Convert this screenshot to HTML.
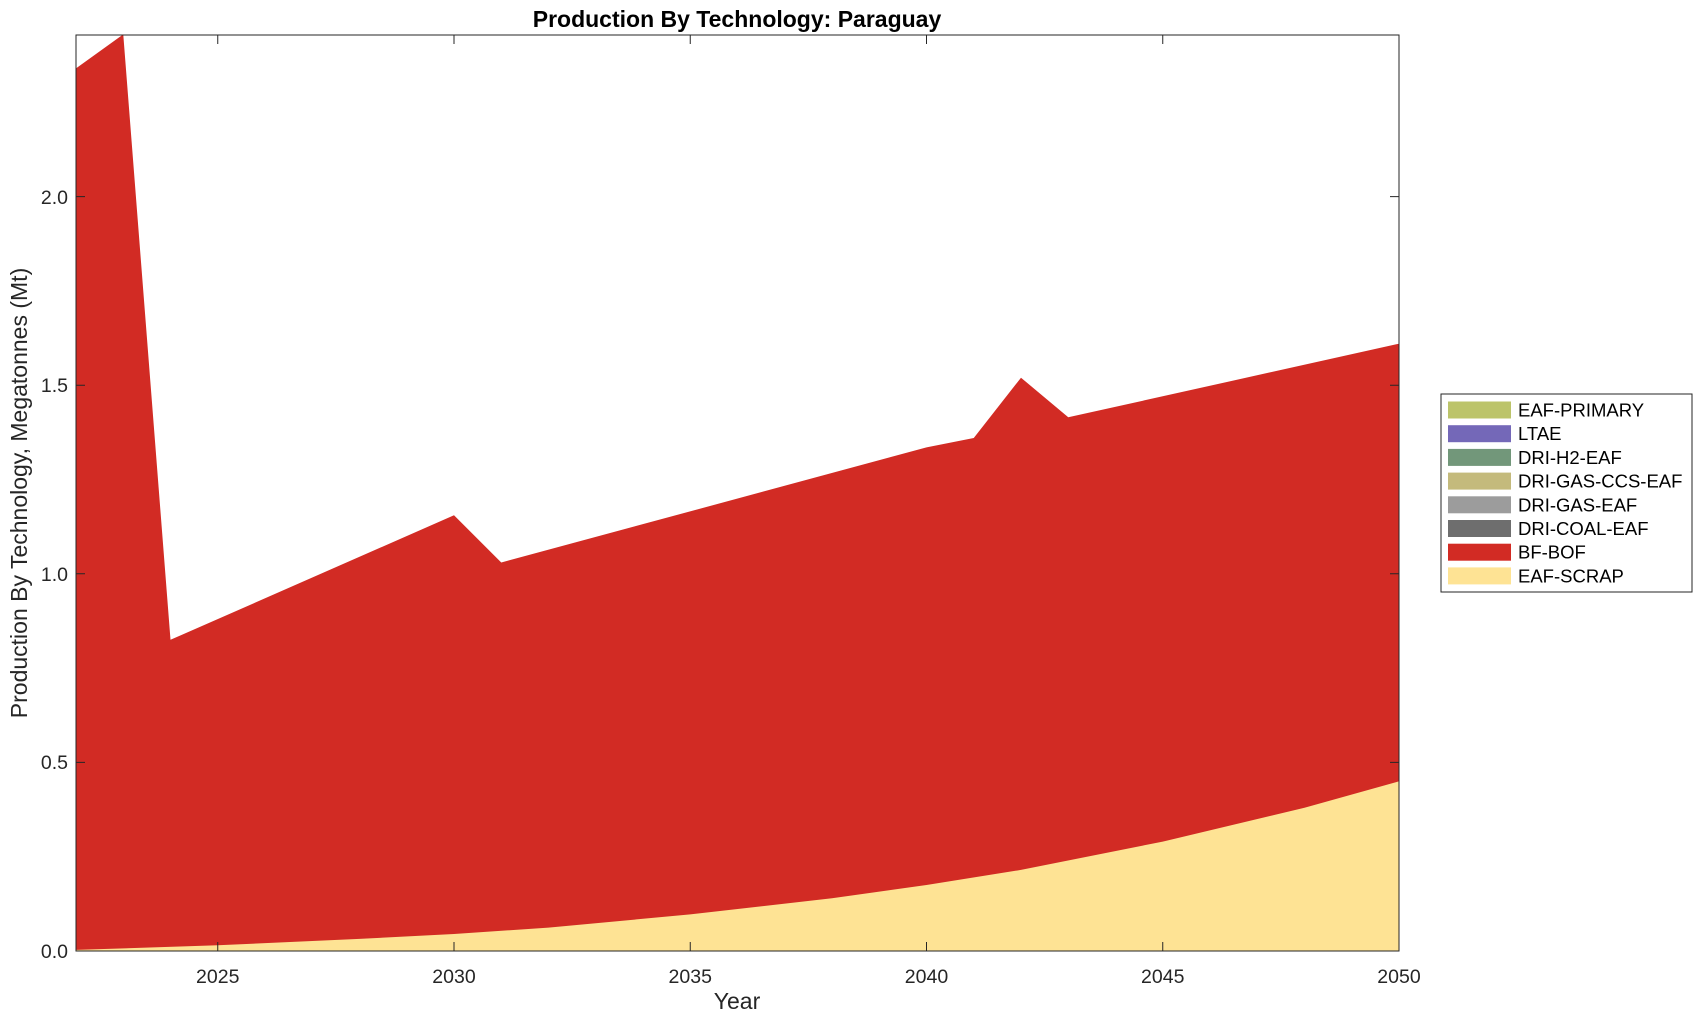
<!DOCTYPE html>
<html><head><meta charset="utf-8"><style>html,body{margin:0;padding:0;background:#fff}svg{display:block}</style></head>
<body>
<svg width="1703" height="1020" viewBox="0 0 1703 1020" xmlns="http://www.w3.org/2000/svg" font-family="Liberation Sans, Arial, sans-serif">
<rect width="1703" height="1020" fill="#fff"/>
<polygon fill="#d22b24" points="76,951 76,68.4 123.25,34.4 170.5,639.8 454,515.3 501.25,562.5 926.5,447.4 973.75,438 1021,377.7 1068.25,417.3 1399,343.7 1399,951"/>
<polygon fill="#fee394" points="76,951 76,949.9 217.75,945.3 359.5,938.9 454,934 548.5,927.6 690.25,914.4 832,898.2 926.5,885 1021,869.9 1162.75,841.6 1304.5,807.7 1399,781.3 1399,951"/>
<rect x="76" y="35" width="1323" height="916" fill="none" stroke="#262626" stroke-width="1"/>
<g stroke="#262626" stroke-width="1">
<path d="M76 762.4h9M76 573.8h9M76 385.2h9M76 196.6h9M1399 762.4h-9M1399 573.8h-9M1399 385.2h-9M1399 196.6h-9"/>
<path d="M217.75 951v-9M454 951v-9M690.25 951v-9M926.5 951v-9M1162.75 951v-9M217.75 35v9M454 35v9M690.25 35v9M926.5 35v9M1162.75 35v9"/>
</g>
<g font-size="19.5" fill="#262626" text-anchor="end">
<text x="68" y="958">0.0</text><text x="68" y="769">0.5</text><text x="68" y="581">1.0</text><text x="68" y="392">1.5</text><text x="68" y="204">2.0</text>
</g>
<g font-size="19.5" fill="#262626" text-anchor="middle">
<text x="217.75" y="983">2025</text><text x="454" y="983">2030</text><text x="690.25" y="983">2035</text><text x="926.5" y="983">2040</text><text x="1162.75" y="983">2045</text><text x="1399" y="983">2050</text>
<text x="737" y="1009" font-size="23">Year</text>
<text x="737" y="27" font-size="23" font-weight="bold" fill="#000">Production By Technology: Paraguay</text>
<text transform="translate(27,493) rotate(-90)" font-size="23">Production By Technology, Megatonnes (Mt)</text>
</g>
<rect x="1441" y="394" width="251" height="198" fill="#fff" stroke="#262626" stroke-width="1"/>
<g>
<rect x="1448" y="401.5" width="63" height="17" fill="#bcc46a"/>
<rect x="1448" y="425.2" width="63" height="17" fill="#7468b8"/>
<rect x="1448" y="448.9" width="63" height="17" fill="#72977a"/>
<rect x="1448" y="472.6" width="63" height="17" fill="#c4ba7c"/>
<rect x="1448" y="496.3" width="63" height="17" fill="#9c9c9c"/>
<rect x="1448" y="520" width="63" height="17" fill="#6e6e6e"/>
<rect x="1448" y="543.7" width="63" height="17" fill="#d22b24"/>
<rect x="1448" y="567.4" width="63" height="17" fill="#fee394"/>
</g>
<g font-size="18.5" fill="#000">
<text x="1518" y="416.5">EAF-PRIMARY</text>
<text x="1518" y="440.2">LTAE</text>
<text x="1518" y="463.9">DRI-H2-EAF</text>
<text x="1518" y="487.6">DRI-GAS-CCS-EAF</text>
<text x="1518" y="511.3">DRI-GAS-EAF</text>
<text x="1518" y="535">DRI-COAL-EAF</text>
<text x="1518" y="558.7">BF-BOF</text>
<text x="1518" y="582.4">EAF-SCRAP</text>
</g>
</svg>
</body></html>
